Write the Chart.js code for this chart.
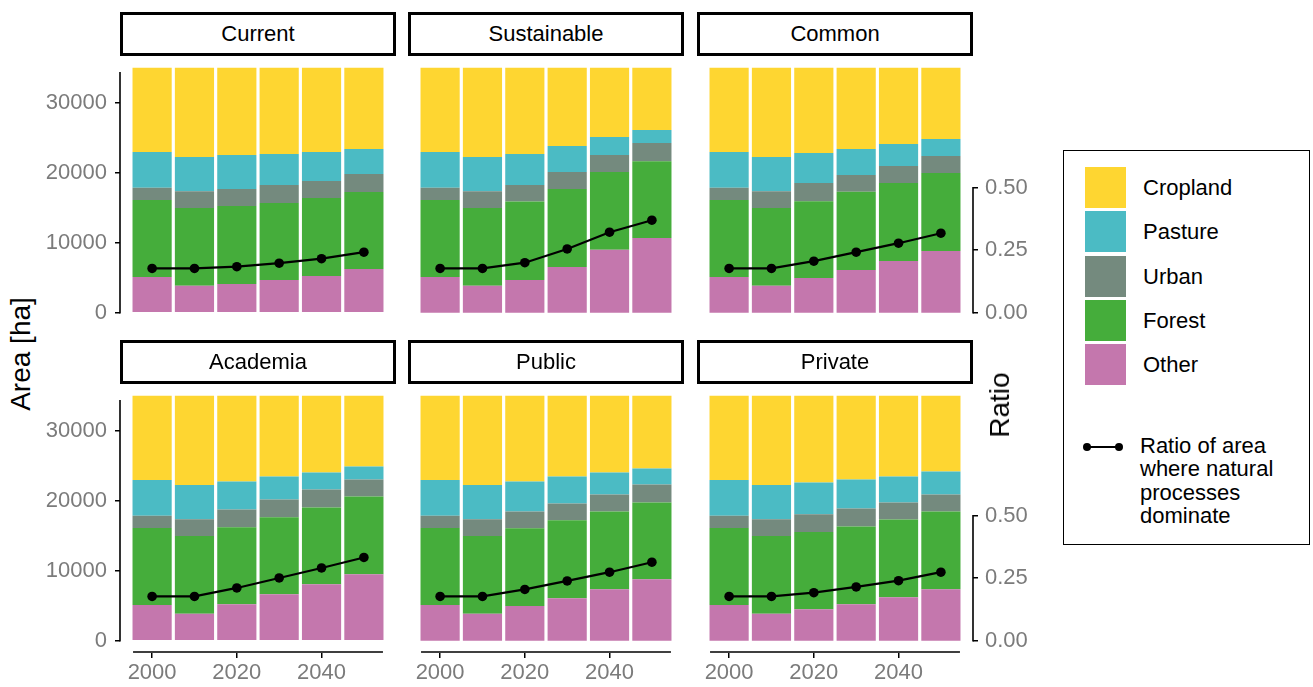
<!DOCTYPE html>
<html>
<head>
<meta charset="utf-8">
<script src="https://cdn.jsdelivr.net/npm/chart.js@4.4.0/dist/chart.umd.min.js"></script>
<style>
  body { margin: 0; background: #fff; font-family: 'Liberation Sans', Arial, sans-serif; }
  #page { position: relative; width: 1313px; height: 687px; overflow: hidden; }
  #page canvas { position: absolute; }
  .strip {
    position: absolute; box-sizing: border-box; width: 276px; height: 44px;
    border: 3px solid #000; font-size: 22px; line-height: 38px; text-align: center; color: #000;
  }
  .axis-title {
    position: absolute; font-size: 28px; white-space: nowrap; color: #000;
    transform: translate(-50%, -50%) rotate(-90deg);
  }
  #legend-box { position: absolute; left: 1063px; top: 150px; width: 247px; height: 395px; box-sizing: border-box; border: 1.5px solid #000; }
  .key { position: absolute; left: 1085px; width: 41px; height: 41px; }
  .key-label { position: absolute; left: 1143px; font-size: 22px; line-height: 41px; white-space: nowrap; }
  .line-key { position: absolute; left: 1087px; top: 446px; width: 32px; height: 2px; background: #000; }
  .line-dot { position: absolute; width: 8px; height: 8px; border-radius: 50%; background: #000; top: 443px; }
  .line-label { position: absolute; left: 1140px; top: 434px; font-size: 22px; line-height: 23.3px; }
</style>
</head>
<body>
<div id="page"></div>
<script>
const years = [2000, 2010, 2020, 2030, 2040, 2050];
const scenarios = ['Current', 'Sustainable', 'Common', 'Academia', 'Public', 'Private'];

// land area in ha, one row per scenario (same order as above)
const otherArea = [
  [5100, 3850, 4100, 4670, 5240, 6240],
  [5100, 3850, 4670, 6530, 9000, 10670],
  [5100, 3850, 4960, 6100, 7390, 8810],
  [5100, 3850, 5220, 6650, 8070, 9500],
  [5100, 3850, 4940, 6080, 7360, 8780],
  [5100, 3850, 4510, 5220, 6220, 7360]
];
const forestArea = [
  [11000, 11100, 11150, 11000, 11150, 11000],
  [11000, 11100, 11200, 11140, 11100, 10960],
  [11000, 11100, 10960, 11190, 11140, 11140],
  [11000, 11100, 10970, 10970, 10970, 11110],
  [11000, 11100, 11110, 11110, 11110, 10970],
  [11000, 11100, 11020, 11110, 11110, 11110]
];
const urbanArea = [
  [1750, 2400, 2430, 2570, 2430, 2570],
  [1750, 2400, 2370, 2430, 2430, 2610],
  [1750, 2400, 2610, 2390, 2430, 2430],
  [1750, 2400, 2570, 2560, 2560, 2420],
  [1750, 2400, 2420, 2420, 2420, 2560],
  [1750, 2400, 2520, 2560, 2420, 2420]
];
const pastureArea = [
  [5100, 4900, 4860, 4430, 4140, 3570],
  [5100, 4900, 4430, 3710, 2570, 1860],
  [5100, 4900, 4290, 3720, 3140, 2430],
  [5100, 4900, 3990, 3280, 2420, 1850],
  [5100, 4900, 4270, 3850, 3130, 2280],
  [5100, 4900, 4560, 4130, 3700, 3280]
];
const croplandArea = [
  [12050, 12750, 12460, 12330, 12040, 11620],
  [12050, 12750, 12330, 11190, 9900, 8900],
  [12050, 12750, 12180, 11600, 10900, 10190],
  [12050, 12750, 12250, 11540, 10980, 10120],
  [12050, 12750, 12260, 11540, 10980, 10410],
  [12050, 12750, 12390, 11980, 11550, 10830]
];
// share of area where natural processes dominate
const naturalRatio = [
  [0.177, 0.177, 0.184, 0.198, 0.216, 0.242],
  [0.177, 0.177, 0.200, 0.255, 0.322, 0.370],
  [0.177, 0.177, 0.206, 0.242, 0.278, 0.318],
  [0.177, 0.177, 0.211, 0.251, 0.291, 0.333],
  [0.177, 0.177, 0.205, 0.239, 0.274, 0.314],
  [0.177, 0.177, 0.192, 0.215, 0.240, 0.274]
];

const areaTicks = [0, 10000, 20000, 30000];
const ratioTicks = [0, 0.25, 0.5];
const yearTicks = [2000, 2020, 2040];

// stacked bottom to top
const landClasses = [
  { label: 'Other', color: '#C477AD', values: otherArea },
  { label: 'Forest', color: '#45AD3B', values: forestArea },
  { label: 'Urban', color: '#748A7E', values: urbanArea },
  { label: 'Pasture', color: '#4BBBC4', values: pastureArea },
  { label: 'Cropland', color: '#FED631', values: croplandArea }
];

// panel layout (px)
const panelLeft = [120, 408, 697];
const panelTop = [56, 384];
const panelWidth = 276;
const panelHeight = 269;
const sideRoom = 80;
const bottomRoom = 40;
const tickGrey = '#7b7b7b';

Chart.defaults.font.family = "'Liberation Sans', Arial, sans-serif";

// axis lines that stop short of the panel edges
const cappedAxes = {
  id: 'cappedAxes',
  afterDraw (chart, args, opts) {
    const { ctx, chartArea, scales } = chart;
    ctx.save();
    ctx.strokeStyle = '#000';
    ctx.lineWidth = 1.6;
    ctx.beginPath();
    if (opts.left) {
      ctx.moveTo(chartArea.left, scales.y.getPixelForValue(0) + 0.8);
      ctx.lineTo(chartArea.left, scales.y.getPixelForValue(34400));
    }
    if (opts.right) {
      ctx.moveTo(chartArea.right, scales.y1.getPixelForValue(0) + 0.8);
      ctx.lineTo(chartArea.right, scales.y1.getPixelForValue(0.5) - 0.8);
    }
    if (opts.bottom) {
      ctx.moveTo(scales.x.getPixelForValue(1995.5), chartArea.bottom - 1);
      ctx.lineTo(scales.x.getPixelForValue(2054.5), chartArea.bottom - 1);
    }
    ctx.stroke();
    ctx.restore();
  }
};

function fixedSize (size, vertical) {
  return scale => {
    if (vertical) scale.width = size
    else scale.height = size
    scale.paddingTop = 0
    scale.paddingBottom = 0
    scale.paddingLeft = 0
    scale.paddingRight = 0
  }
}

function keepTicks (values) {
  return scale => {
    scale.ticks = values.map(v => ({ value: v }))
  }
}

const page = document.getElementById('page');

scenarios.forEach((name, i) => {
  const col = i % 3;
  const row = Math.floor(i / 3);
  const left = panelLeft[col];
  const top = panelTop[row];

  const strip = document.createElement('div');
  strip.className = 'strip';
  strip.style.left = left + 'px';
  strip.style.top = (top - 44) + 'px';
  strip.textContent = name;
  page.appendChild(strip);

  const canvas = document.createElement('canvas');
  canvas.width = panelWidth + 2 * sideRoom;
  canvas.height = panelHeight + bottomRoom;
  canvas.style.left = (left - sideRoom) + 'px';
  canvas.style.top = top + 'px';
  page.appendChild(canvas);

  const datasets = landClasses.map(c => ({
    type: 'bar',
    label: c.label,
    data: years.map((yr, k) => ({ x: yr, y: c.values[i][k] })),
    backgroundColor: c.color,
    borderWidth: 0,
    categoryPercentage: 1,
    barPercentage: 0.925,
    yAxisID: 'y',
    order: 1
  }));
  datasets.push({
    type: 'line',
    label: 'Ratio of area where natural processes dominate',
    data: years.map((yr, k) => ({ x: yr, y: naturalRatio[i][k] })),
    borderColor: '#000',
    backgroundColor: '#000',
    borderWidth: 2.2,
    pointRadius: 4.8,
    pointBorderWidth: 0,
    yAxisID: 'y1',
    order: 0
  });

  const tickFont = { size: 22 };

  new Chart(canvas.getContext('2d'), {
    type: 'bar',
    data: { datasets },
    options: {
      responsive: false,
      animation: false,
      events: [],
      layout: { padding: 0, autoPadding: false },
      plugins: {
        legend: { display: false },
        tooltip: { enabled: false },
        cappedAxes: { left: col === 0, right: col === 2, bottom: row === 1 }
      },
      scales: {
        x: {
          type: 'linear',
          bounds: 'data',
          offset: false,
          min: 1992.42,
          max: 2057.58,
          stacked: true,
          afterFit: fixedSize(bottomRoom, false),
          afterBuildTicks: keepTicks(yearTicks),
          border: { display: false },
          grid: { display: row === 1, offset: false, drawOnChartArea: false, drawTicks: true, tickLength: 5, color: '#000', lineWidth: 1.5 },
          ticks: { display: row === 1, color: tickGrey, font: tickFont, padding: 2, maxRotation: 0, callback: v => String(v) }
        },
        y: {
          type: 'linear',
          position: 'left',
          bounds: 'data',
          min: -1757,
          max: 36671,
          stacked: true,
          afterFit: fixedSize(sideRoom, true),
          afterBuildTicks: keepTicks(areaTicks),
          border: { display: false },
          grid: { display: col === 0, drawOnChartArea: false, drawTicks: true, tickLength: 5, color: '#000', lineWidth: 1.5 },
          ticks: { display: col === 0, color: tickGrey, font: tickFont, padding: 8, callback: v => String(v) }
        },
        y1: {
          type: 'linear',
          position: 'right',
          bounds: 'data',
          min: -0.0492,
          max: 1.0268,
          afterFit: fixedSize(sideRoom, true),
          afterBuildTicks: keepTicks(ratioTicks),
          border: { display: false },
          grid: { display: col === 2, drawOnChartArea: false, drawTicks: true, tickLength: 5, color: '#000', lineWidth: 1.5 },
          ticks: { display: col === 2, color: tickGrey, font: tickFont, padding: 7, callback: v => v.toFixed(2) }
        }
      }
    },
    plugins: [cappedAxes]
  });
});

// axis titles
const areaTitle = document.createElement('div');
areaTitle.className = 'axis-title';
areaTitle.style.left = '21px';
areaTitle.style.top = '354px';
areaTitle.textContent = 'Area [ha]';
page.appendChild(areaTitle);

const ratioTitle = document.createElement('div');
ratioTitle.className = 'axis-title';
ratioTitle.style.left = '1000px';
ratioTitle.style.top = '405px';
ratioTitle.textContent = 'Ratio';
page.appendChild(ratioTitle);

// legend
const legendBox = document.createElement('div');
legendBox.id = 'legend-box';
page.appendChild(legendBox);

landClasses.slice().reverse().forEach((c, k) => {
  const y = 167 + k * 44.25;
  const key = document.createElement('div');
  key.className = 'key';
  key.style.top = y + 'px';
  key.style.background = c.color;
  page.appendChild(key);
  const label = document.createElement('div');
  label.className = 'key-label';
  label.style.top = y + 'px';
  label.textContent = c.label;
  page.appendChild(label);
});

const lineKey = document.createElement('div');
lineKey.className = 'line-key';
page.appendChild(lineKey);
[1083, 1115].forEach(x => {
  const dot = document.createElement('div');
  dot.className = 'line-dot';
  dot.style.left = x + 'px';
  page.appendChild(dot);
});
const lineLabel = document.createElement('div');
lineLabel.className = 'line-label';
lineLabel.innerHTML = 'Ratio of area<br>where natural<br>processes<br>dominate';
page.appendChild(lineLabel);
</script>
</body>
</html>
